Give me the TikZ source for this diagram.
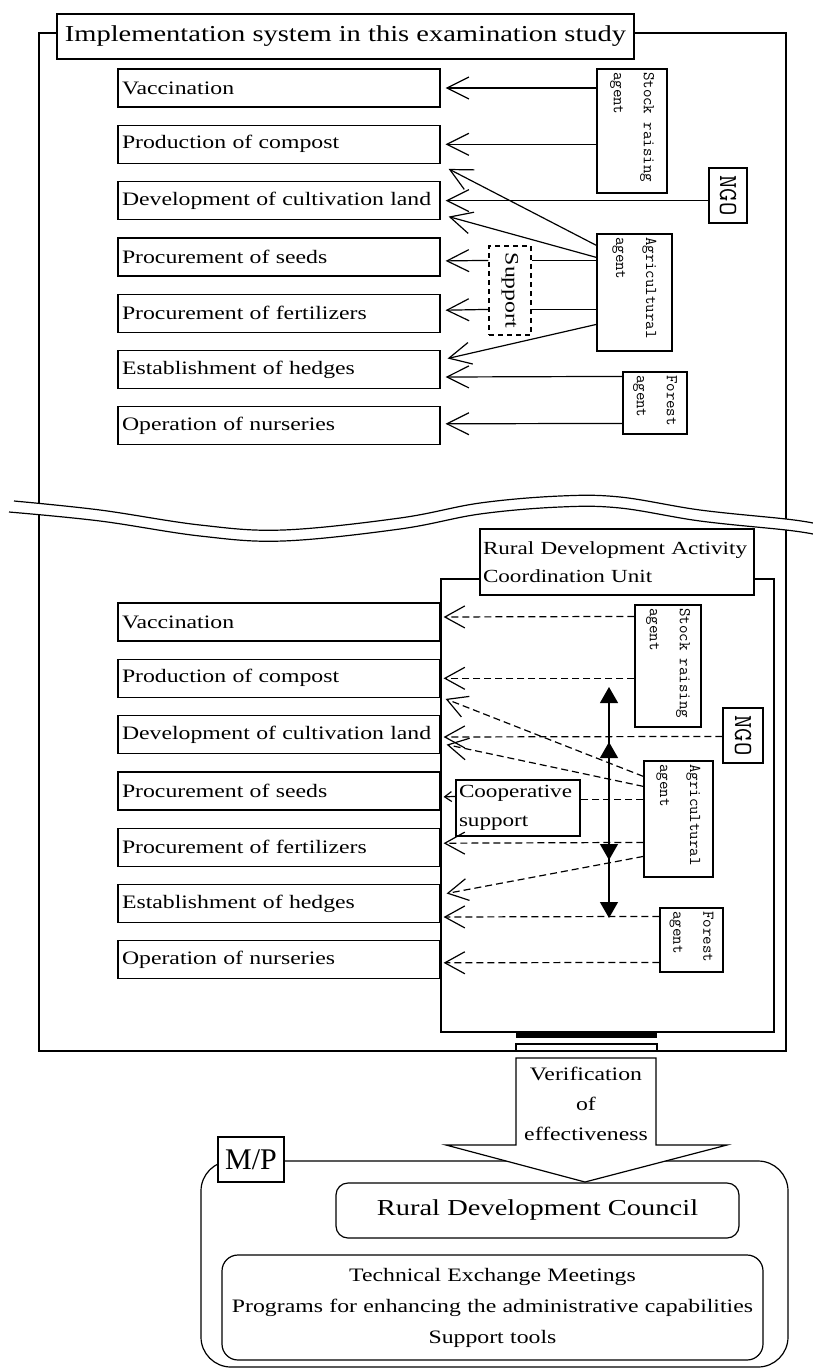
\documentclass[tikz,border=0pt]{standalone}
\usepackage{fontspec}
\setmainfont{Liberation Serif}
\newfontfamily\boxfont[FakeStretch=1.25]{Liberation Serif}
\usepackage{tikz}
\usetikzlibrary{calc}
\usetikzlibrary{arrows.meta}
\tikzset{
	itemstyle/.style={rectangle,draw=black,fill=white,minimum height=38pt,text width=314pt,inner xsep=4pt,inner ysep=0pt,align=left,font=\boxfont\fontsize{19}{22}\selectfont},
	agentstyle/.style={rectangle,draw=black,fill=white,inner sep=0pt},
	agenttext/.style={rotate=-90,anchor=west,align=left,inner xsep=3pt,inner ysep=0pt,font=\ttfamily\fontsize{16.5}{30}\selectfont},
	labelstyle/.style={rectangle,draw=black,fill=white,align=left,inner xsep=3pt,font=\boxfont\fontsize{18.5}{28}\selectfont},
	supportstyle/.style={rectangle,draw=black,dash pattern=on 5pt off 4pt,inner sep=0pt},
	solidarrow/.style={-{Straight Barb[length=22pt,width=22pt]}},
	dashedarrow/.style={dash pattern=on 7pt off 4pt,-{Straight Barb[length=20pt,width=22pt]}},
	smallarrow/.style={-{Straight Barb[length=7pt,width=10pt]}},
	tristyle/.style={-{Triangle[length=16pt,width=18pt]}},
	roundstyle/.style={rectangle,draw=black,fill=white,rounded corners=12pt,align=center,font=\boxfont\fontsize{19}{31}\selectfont}
}

\begin{document}
\begin{tikzpicture}[x=1pt,y=-1pt,line width=1.2pt]
		\useasboundingbox (0,0) rectangle (813,1369);
		\draw (39,33) rectangle (786,1051);
		\node[rectangle,draw=black,fill=white,minimum width=577pt,minimum height=45pt,inner sep=3pt,font=\boxfont\fontsize{22.8}{26}\selectfont] (title) at (345.5,36.5) {Implementation system in this examination study};
		\fill[white] plot[smooth,tension=0.6] coordinates {(10,501) (100,510) (200,525) (283,530) (400,518) (480,503) (560,496) (620,497) (700,510) (786,519) (813,523)} -- plot[smooth,tension=0.6] coordinates {(813,534) (786,530) (700,521) (620,508) (560,507) (480,514) (400,529) (283,541) (200,536) (100,521) (9,512)} -- cycle;
		\draw plot[smooth,tension=0.6] coordinates {(14,501) (100,510) (200,525) (283,530) (400,518) (480,503) (560,496) (620,497) (700,510) (786,519) (813,523)};
		\draw plot[smooth,tension=0.6] coordinates {(9,512) (100,521) (200,536) (283,541) (400,529) (480,514) (560,507) (620,508) (700,521) (786,530) (813,534)};
		\node[itemstyle] (vacU) at (279,88) {Vaccination};
		\node[itemstyle] (compU) at (279,144.3) {Production of compost};
		\node[itemstyle] (landU) at (279,200.6) {Development of cultivation land};
		\node[itemstyle] (seedU) at (279,256.9) {Procurement of seeds};
		\node[itemstyle] (fertU) at (279,313.2) {Procurement of fertilizers};
		\node[itemstyle] (hedgeU) at (279,369.5) {Establishment of hedges};
		\node[itemstyle] (nursU) at (279,425.8) {Operation of nurseries};
		\node[agentstyle,minimum width=70pt,minimum height=124pt] (stockU) at (632,131) {};
		\node[agenttext] (stockUt) at (stockU.north) {Stock raising\\agent};
		\node[agentstyle,minimum width=38pt,minimum height=55pt] (ngoU) at (728,195.5) {};
		\node[rotate=-90,font=\ttfamily\fontsize{26}{28}\selectfont] (ngoUt) at (ngoU.center) {NGO};
		\node[agentstyle,minimum width=75pt,minimum height=117pt] (agriU) at (634.5,292.5) {};
		\node[agenttext] (agriUt) at (agriU.north) {Agricultural\\agent};
		\node[agentstyle,minimum width=64pt,minimum height=62pt] (forestU) at (655,403) {};
		\node[agenttext] (forestUt) at (forestU.north) {Forest\\agent};
		\node[supportstyle,minimum width=42pt,minimum height=89pt] (suppU) at (510,290.5) {};
		\node[rotate=-90,font=\boxfont\fontsize{19}{22}\selectfont] (suppUt) at (suppU.center) {Support};
		\draw[solidarrow] (stockU.west |- vacU.east) -- ($(vacU.east)+(5,0)$);
		\draw[solidarrow] (stockU.west |- compU.east) -- ($(compU.east)+(5,0)$);
		\draw[solidarrow] (ngoU.west |- landU.east) -- ($(landU.east)+(5,0)$);
		\draw[solidarrow] ($(agriU.north west)+(0,12)$) -- ($(compU.south east)+(8,5)$);
		\draw[solidarrow] ($(agriU.north west)+(0,24)$) -- ($(landU.east)+(8,16)$);
		\draw ($(agriU.north west)+(0,27)$) -- ($(suppU.north east)+(0,15)$);
		\draw[solidarrow] ($(suppU.north west)+(0,15)$) -- ($(seedU.east)+(5,4)$);
		\draw ($(agriU.north west)+(0,76)$) -- ($(suppU.north east)+(0,64)$);
		\draw[solidarrow] ($(suppU.north west)+(0,64)$) -- ($(fertU.east)+(5,-3)$);
		\draw[solidarrow] ($(agriU.north west)+(0,91)$) -- ($(hedgeU.east)+(7,-11)$);
		\draw[solidarrow] ($(forestU.north west)+(0,5)$) -- ($(hedgeU.east)+(5,7.5)$);
		\draw[solidarrow] ($(forestU.north west)+(0,52)$) -- ($(nursU.east)+(5,-2)$);
		\node[rectangle,draw=black,minimum width=333pt,minimum height=453pt,inner sep=0pt] (unit) at (607.5,805.5) {};
		\node[labelstyle,text width=268pt,minimum height=66pt] (unitlbl) at (617,562) {Rural Development Activity\\Coordination Unit};
		\node[itemstyle] (vacL) at (279,622) {Vaccination};
		\node[itemstyle] (compL) at (279,678.3) {Production of compost};
		\node[itemstyle] (landL) at (279,734.6) {Development of cultivation land};
		\node[itemstyle] (seedL) at (279,790.9) {Procurement of seeds};
		\node[itemstyle] (fertL) at (279,847.2) {Procurement of fertilizers};
		\node[itemstyle] (hedgeL) at (279,903.5) {Establishment of hedges};
		\node[itemstyle] (nursL) at (279,959.8) {Operation of nurseries};
		\node[agentstyle,minimum width=66pt,minimum height=122pt] (stockL) at (668,666) {};
		\node[agenttext] (stockLt) at (stockL.north) {Stock raising\\agent};
		\node[agentstyle,minimum width=40pt,minimum height=55pt] (ngoL) at (743,735.5) {};
		\node[rotate=-90,font=\ttfamily\fontsize{26}{28}\selectfont] (ngoLt) at (ngoL.center) {NGO};
		\node[agentstyle,minimum width=69pt,minimum height=116pt] (agriL) at (678.5,819) {};
		\node[agenttext] (agriLt) at (agriL.north) {Agricultural\\agent};
		\node[agentstyle,minimum width=63pt,minimum height=64pt] (forestL) at (691.5,940) {};
		\node[agenttext] (forestLt) at (forestL.north) {Forest\\agent};
		\node[labelstyle,text width=118pt,minimum height=56pt,font=\boxfont\fontsize{18.5}{29}\selectfont] (coopL) at (518,808) {Cooperative\\support};
		\draw[dashedarrow] ($(stockL.north west)+(0,12)$) -- ($(vacL.east)+(3,-5)$);
		\draw[dashedarrow] (stockL.west |- compL.east) -- ($(compL.east)+(3,0)$);
		\draw[dashedarrow] ($(agriL.north west)+(0,16)$) -- ($(compL.south east)+(5,1)$);
		\draw[dashedarrow] ($(ngoL.north west)+(0,29)$) -- ($(landL.east)+(3,2.4)$);
		\draw[dashedarrow] ($(agriL.north west)+(0,26)$) -- ($(landL.east)+(6,10)$);
		\draw[dash pattern=on 7pt off 4pt] ($(agriL.north west)+(0,39)$) -- ($(coopL.north east)+(0,20)$);
		\draw[smallarrow] ($(coopL.north west)+(0,17)$) -- ($(seedL.east)+(3,6)$);
		\draw[dashedarrow] ($(agriL.north west)+(0,82)$) -- ($(fertL.east)+(3,-4)$);
		\draw[dashedarrow] ($(agriL.north west)+(0,96)$) -- ($(hedgeL.east)+(6,-10)$);
		\draw[dashedarrow] ($(forestL.north west)+(0,9)$) -- ($(hedgeL.east)+(3,13.5)$);
		\draw[dashedarrow] ($(forestL.north west)+(0,55)$) -- ($(nursL.east)+(3,3)$);
		\coordinate (vtop) at (609,687);
		\coordinate (vbot) at (609,918);
		\coordinate (vupA) at (609,742);
		\coordinate (vdnA) at (609,860);
		\coordinate (vmid) at (609,800);
		\draw[{Triangle[length=16pt,width=18pt]}-{Triangle[length=16pt,width=18pt]}] (vtop) -- (vbot);
		\draw[tristyle] (vmid) -- (vupA);
		\draw[tristyle] (vmid) -- (vdnA);
		\fill (516,1033) rectangle (657,1038);
		\draw (516,1044) rectangle (657,1051);
		\node[rectangle,draw=black,rounded corners=30pt,minimum width=587pt,minimum height=206pt,inner sep=0pt] (mpframe) at (494.5,1264) {};
		\draw[fill=white] (516,1058) -- (656,1058) -- (656,1145) -- (727,1145) -- (585,1182) -- (446,1145) -- (516,1145) -- cycle;
		\node[align=center,font=\boxfont\fontsize{19}{30}\selectfont] (verif) at (586,1104) {Verification\\of\\effectiveness};
		\node[rectangle,draw=black,fill=white,minimum width=66pt,minimum height=45pt,inner sep=0pt,font=\fontsize{30}{32}\selectfont] (mp) at (251,1159.5) {M/P};
		\node[roundstyle,minimum width=403pt,minimum height=55pt,font=\boxfont\fontsize{22.8}{26}\selectfont] (council) at (537.5,1210.5) {Rural Development Council};
		\node[roundstyle,text width=533pt,inner xsep=4pt,minimum height=105pt,rounded corners=16pt] (tools) at (492.5,1307.5) {Technical Exchange Meetings\\Programs for enhancing the administrative capabilities\\Support tools};
\end{tikzpicture}
\end{document}
